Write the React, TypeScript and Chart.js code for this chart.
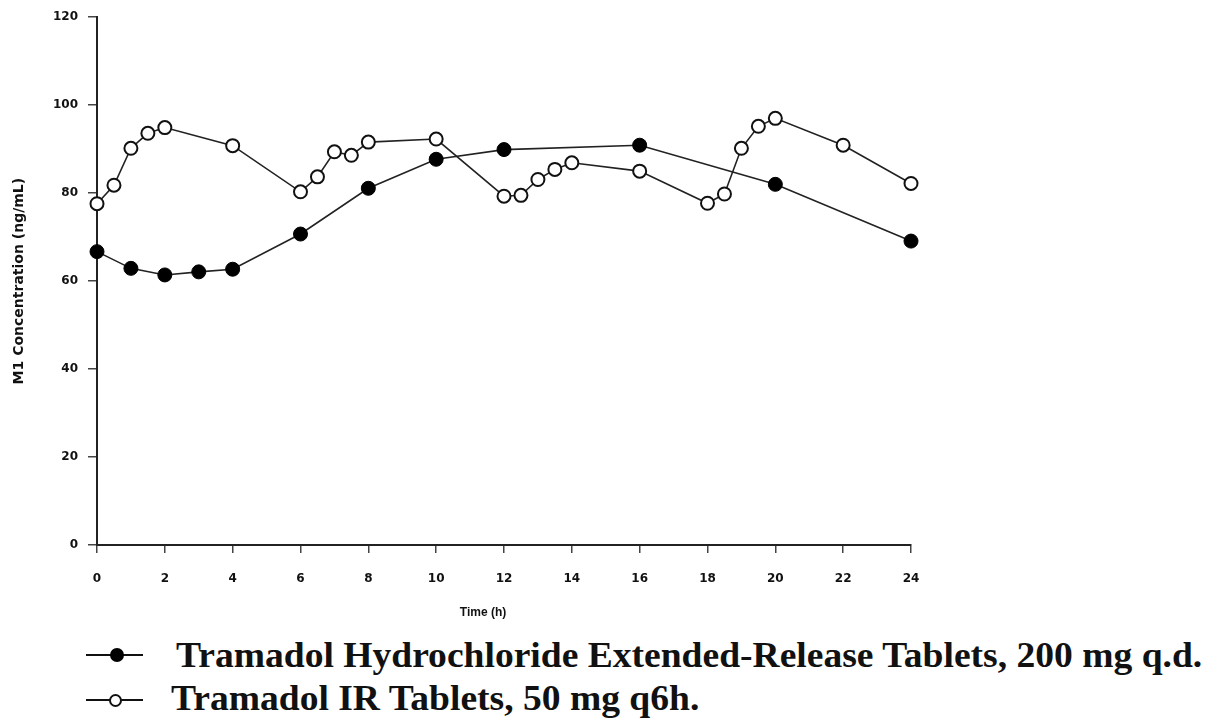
import React, { useEffect, useRef } from "react";
import { Chart, registerables } from "chart.js";

Chart.register(...registerables);

const erTimes = [0, 1, 2, 3, 4, 6, 8, 10, 12, 16, 20, 24];
const erValues = [66.7, 62.9, 61.4, 62.1, 62.7, 70.7, 81.1, 87.7, 89.9, 90.9, 82.0, 69.1];

const irTimes = [0, 0.5, 1, 1.5, 2, 4, 6, 6.5, 7, 7.5, 8, 10, 12, 12.5, 13, 13.5, 14, 16, 18, 18.5, 19, 19.5, 20, 22, 24];
const irValues = [77.6, 81.8, 90.2, 93.6, 94.9, 90.8, 80.3, 83.7, 89.4, 88.6, 91.6, 92.3, 79.3, 79.5, 83.1, 85.4, 86.9, 85.0, 77.7, 79.8, 90.2, 95.2, 97.0, 90.9, 82.2];

const xTicks = [0, 2, 4, 6, 8, 10, 12, 14, 16, 18, 20, 22, 24];
const yTicks = [0, 20, 40, 60, 80, 100, 120];

const erLabel = "Tramadol Hydrochloride Extended-Release Tablets, 200 mg q.d.";
const irLabel = "Tramadol IR Tablets, 50 mg q6h.";
const xTitle = "Time (h)";
const yTitle = "M1 Concentration (ng/mL)";

const axisFont = "'DejaVu Sans', 'Liberation Sans', Arial, sans-serif";

export default function App() {
  const ref = useRef<HTMLCanvasElement | null>(null);

  useEffect(() => {
    if (!ref.current) return;
    const chart = new Chart(ref.current, {
      type: "line",
      data: {
        datasets: [
          {
            label: erLabel,
            data: erTimes.map((t, i) => ({ x: t, y: erValues[i] })),
            borderColor: "#222",
            borderWidth: 1.6,
            pointRadius: 7,
            pointBackgroundColor: "#000",
            pointBorderColor: "#000",
            pointBorderWidth: 1,
            tension: 0,
            clip: false,
          },
          {
            label: irLabel,
            data: irTimes.map((t, i) => ({ x: t, y: irValues[i] })),
            borderColor: "#222",
            borderWidth: 1.6,
            pointRadius: 6.5,
            pointBackgroundColor: "#fff",
            pointBorderColor: "#111",
            pointBorderWidth: 2,
            tension: 0,
            clip: false,
          },
        ],
      },
      options: {
        animation: false,
        responsive: true,
        maintainAspectRatio: false,
        layout: { padding: { top: 17, right: 298, left: 0, bottom: 0 } },
        plugins: { legend: { display: false }, tooltip: { enabled: false } },
        scales: {
          x: {
            type: "linear",
            min: 0,
            max: 24,
            afterBuildTicks: (s: any) => {
              s.ticks = xTicks.map((v) => ({ value: v }));
            },
            afterFit: (s: any) => {
              s.height = 85;
            },
            ticks: {
              autoSkip: false,
              maxRotation: 0,
              padding: 19,
              color: "#111",
              font: { family: axisFont, size: 12, weight: "bold" },
            },
            grid: {
              display: true,
              drawOnChartArea: false,
              drawTicks: true,
              tickLength: 8,
              color: "#444",
              lineWidth: 1.5,
            },
            border: { display: true, color: "#222", width: 2 },
            title: { display: false },
          },
          y: {
            type: "linear",
            min: 0,
            max: 120,
            afterBuildTicks: (s: any) => {
              s.ticks = yTicks.map((v) => ({ value: v }));
            },
            afterFit: (s: any) => {
              s.width = 97;
            },
            ticks: {
              padding: 10,
              color: "#111",
              font: { family: axisFont, size: 12, weight: "bold" },
            },
            grid: {
              display: true,
              drawOnChartArea: false,
              drawTicks: true,
              tickLength: 9,
              color: "#444",
              lineWidth: 1.5,
            },
            border: { display: true, color: "#222", width: 2 },
            title: {
              display: true,
              text: yTitle,
              color: "#111",
              font: { family: axisFont, size: 14, weight: "bold" },
              padding: { top: 11, bottom: 0 },
            },
          },
        },
      },
    });
    return () => chart.destroy();
  }, []);

  const legendText: React.CSSProperties = {
    position: "absolute",
    fontFamily: "'Liberation Serif', 'Times New Roman', serif",
    fontWeight: "bold",
    fontSize: 35,
    color: "#111",
    whiteSpace: "nowrap",
    lineHeight: "35px",
    transform: "scaleX(1.073)",
    transformOrigin: "0 0",
  };

  return (
    <div style={{ position: "absolute", left: 0, top: 0, width: 1209, height: 719, background: "#fff", overflow: "hidden" }}>
      <div style={{ position: "absolute", left: 0, top: 0, width: 1209, height: 630 }}>
        <canvas ref={ref} />
      </div>
      <div
        style={{
          position: "absolute",
          left: 433,
          width: 100,
          top: 604,
          textAlign: "center",
          fontFamily: "'Liberation Sans', Arial, sans-serif",
          fontWeight: "bold",
          fontSize: 12,
          lineHeight: "16px",
          color: "#111",
        }}
      >
        {xTitle}
      </div>
      {/* legend row 1 */}
      <div style={{ position: "absolute", left: 86, top: 654, width: 57, height: 2, background: "#111" }} />
      <div style={{ position: "absolute", left: 110, top: 648, width: 14, height: 14, borderRadius: "50%", background: "#000" }} />
      <div style={{ ...legendText, left: 176, top: 638 }}>{erLabel}</div>
      {/* legend row 2 */}
      <div style={{ position: "absolute", left: 86, top: 699, width: 57, height: 2, background: "#111" }} />
      <div style={{ position: "absolute", left: 109, top: 694, width: 9, height: 9, borderRadius: "50%", background: "#fff", border: "2px solid #111" }} />
      <div style={{ ...legendText, left: 171, top: 681 }}>{irLabel}</div>
    </div>
  );
}
